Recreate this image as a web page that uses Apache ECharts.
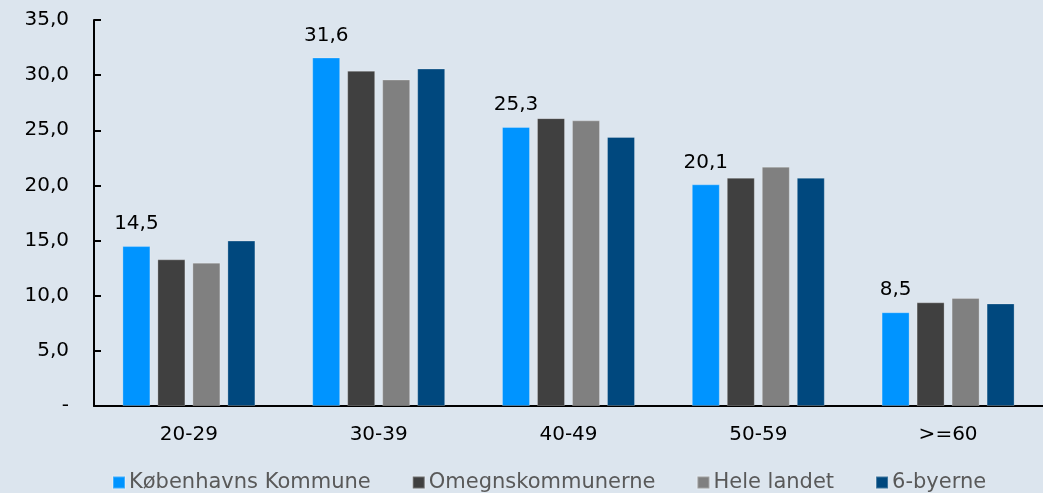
<!DOCTYPE html>
<html><head><meta charset="utf-8">
<script src="https://cdn.jsdelivr.net/npm/echarts@6/dist/echarts.min.js"></script>
<style>html,body{margin:0;padding:0;background:#dce5ee;}#c{width:1043px;height:493px;}</style>
</head><body><div id="c"></div>
<script>
const categories = ['20-29','30-39','40-49','50-59','>=60'];
const seriesNames = ['Københavns Kommune','Omegnskommunerne','Hele landet','6-byerne'];
const kbh = [14.5, 31.6, 25.3, 20.1, 8.5];
const omegn = [13.3, 30.4, 26.1, 20.7, 9.4];
const hele = [13.0, 29.6, 25.9, 21.7, 9.8];
const seks = [15.0, 30.6, 24.4, 20.7, 9.3];
const colors = ['#0094ff','#404040','#808080','#00487e'];
const values = [kbh, omegn, hele, seks];
const FONT = 'DejaVu Sans';
const fmt = v => v.toFixed(1).replace('.', ',');
const chart = echarts.init(document.getElementById('c'));
chart.setOption({
  backgroundColor: '#dce5ee',
  animation: false,
  textStyle: {fontFamily: FONT},
  grid: {left: 94, right: 0, top: 20, bottom: 87},
  legend: {
    bottom: 0, left: 112, padding: 0, itemWidth: 12, itemHeight: 12, itemGap: 41,
    icon: 'rect',
    textStyle: {fontFamily: FONT, fontSize: 21, color: '#595959', padding: [0,0,0,-1]},
    data: seriesNames
  },
  xAxis: {
    type: 'category', data: categories,
    axisLine: {lineStyle: {color: '#000', width: 2}},
    axisTick: {show: false},
    axisLabel: {fontFamily: FONT, fontSize: 20, color: '#000', margin: 19}
  },
  yAxis: {
    type: 'value', min: 0, max: 35, interval: 5,
    splitLine: {show: false},
    axisLine: {show: true, lineStyle: {color: '#000', width: 2}},
    axisTick: {show: true, inside: true, length: 7, lineStyle: {color: '#000', width: 2}},
    axisLabel: {fontFamily: FONT, fontSize: 20, color: '#000', margin: 25,
      formatter: v => v === 0 ? '-' : fmt(v)}
  },
  series: values.map((d, i) => ({
    name: seriesNames[i], type: 'bar', data: d,
    barWidth: 28, barGap: '25%',
    itemStyle: {color: colors[i], borderColor: 'rgba(255,255,255,0.25)', borderWidth: 1},
    label: i === 0 ? {show: true, position: 'top', distance: 12, fontFamily: FONT, fontSize: 20, color: '#000',
      formatter: p => fmt(p.value)} : {show: false}
  }))
});
</script></body></html>
